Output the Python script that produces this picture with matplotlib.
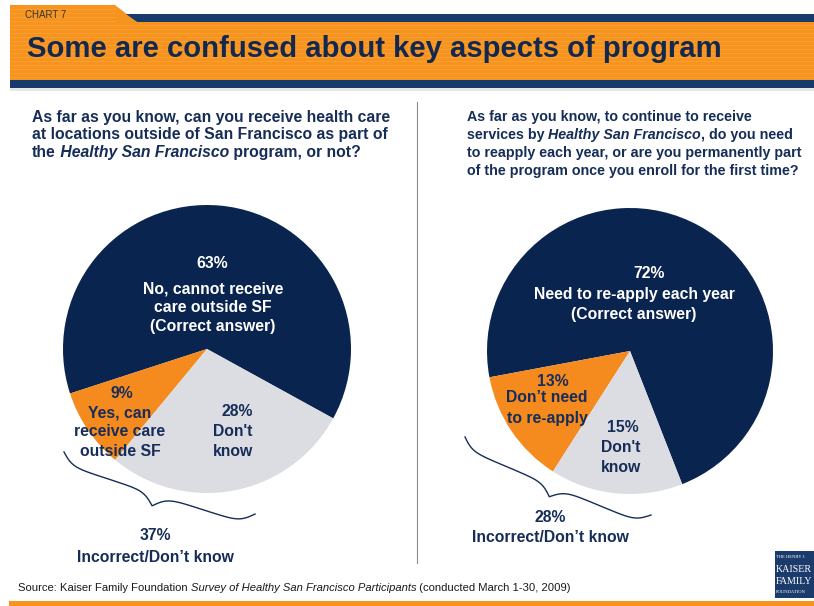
import numpy as np
import matplotlib
matplotlib.use("Agg")
import matplotlib.pyplot as plt
from matplotlib.patches import Polygon, Rectangle

W, H = 814, 606

# ---- data ----
left_values = [63, 9, 28]
left_labels = [["No, cannot receive", "care outside SF", "(Correct answer)"],
               ["Yes, can", "receive care", "outside SF"],
               ["Don't", "know"]]
left_incorrect = 37

right_values = [72, 13, 15]
right_labels = [["Need to re-apply each year", "(Correct answer)"],
                ["Don\u2019t need", "to re-apply"],
                ["Don't", "know"]]
right_incorrect = 28

slice_colors = ["#0a2450", "#f58a1f", "#dcdce3"]
navy_txt = "#162d58"
orange_hdr = "#f7941e"
navy_hdr = "#163a69"

plt.rcParams['font.family'] = ['Liberation Sans', 'DejaVu Sans']

fig = plt.figure(figsize=(W / 100, H / 100), dpi=100)
ax = fig.add_axes([0, 0, 1, 1], zorder=2)
ax.set_xlim(0, W)
ax.set_ylim(H, 0)
ax.axis('off')
renderer = fig.canvas.get_renderer()


def draw_pie(cx, cy, r, values, start):
    pax = fig.add_axes([(cx - r) / W, (H - cy - r) / H, 2 * r / W, 2 * r / H], zorder=1)
    pax.pie(values, colors=slice_colors, startangle=start, counterclock=True,
            radius=1, wedgeprops=dict(linewidth=0))
    pax.set_xlim(-1, 1)
    pax.set_ylim(-1, 1)
    pax.axis('off')


def brace(p0, p1, depth):
    p0, p1 = np.array(p0, float), np.array(p1, float)
    d = p1 - p0
    L = np.hypot(*d)
    u = d / L
    n = np.array([-u[1], u[0]])
    t = np.linspace(0, 1, 201)
    half = t[:101]
    beta = 32
    yh = 1 / (1 + np.exp(-beta * (half - half[0]))) + 1 / (1 + np.exp(-beta * (half - half[-1])))
    y = np.concatenate([yh, yh[-2::-1]])
    off = (y - 0.5) * depth
    pts = p0 + np.outer(t * L, u) + np.outer(off, n)
    ax.plot(pts[:, 0], pts[:, 1], color=navy_txt, lw=1.0)


def rich(x, y, parts, size, weight, color):
    for s, style in parts:
        t = ax.text(x, y, s, fontsize=size, fontweight=weight, fontstyle=style,
                    color=color, va='baseline', ha='left')
        bb = t.get_window_extent(renderer)
        x = ax.transData.inverted().transform((bb.x1, bb.y0))[0]


def lines(x, ys, strings, color, size=11.3):
    for yy, s in zip(ys, strings):
        ax.text(x, yy, s, fontsize=size, fontweight='bold', color=color,
                ha='center', va='center')


# ---- header ----
ax.add_patch(Polygon([(10, 5), (115, 5), (137, 22), (W, 22), (W, 80), (10, 80)],
                     closed=True, color=orange_hdr, lw=0, zorder=1))
for yy in np.arange(9, 80, 4):
    ax.plot([10, 115 if yy < 22 else W], [yy, yy], color="#f9a94c", lw=0.6,
            alpha=0.6, zorder=1.5)
ax.add_patch(Polygon([(126, 14), (W, 14), (W, 22), (137, 22)], closed=True,
                     color=navy_hdr, lw=0, zorder=2))
ax.add_patch(Rectangle((10, 80), W - 10, 8, color=navy_hdr, lw=0, zorder=2))
ax.add_patch(Rectangle((10, 88), W - 10, 3, color="#e6e6e6", lw=0, zorder=2))
ax.text(25, 15, "CHART 7", fontsize=7, color="#333333", va='center', ha='left', zorder=3)
ax.text(27, 57, "Some are confused about key aspects of program", fontsize=21.1,
        fontweight='bold', color="#13284f", va='baseline', ha='left', zorder=3)

# ---- questions ----
qsize = 11.3
rich(32, 122, [("As far as you know, can you receive health care", 'normal')], qsize, 'bold', navy_txt)
rich(32, 139.5, [("at locations outside of San Francisco as part of", 'normal')], qsize, 'bold', navy_txt)
rich(32, 157, [("the", 'normal'), (" Healthy San Francisco", 'italic'),
               (" program, or not?", 'normal')], qsize, 'bold', navy_txt)

rsize = 10.25
rich(467, 121, [("As far as you know, to continue to receive", 'normal')], rsize, 'bold', navy_txt)
rich(467, 139, [("services by", 'normal'), (" Healthy San Francisco", 'italic'),
                (", do you need", 'normal')], rsize, 'bold', navy_txt)
rich(467, 157, [("to reapply each year, or are you permanently part", 'normal')], rsize, 'bold', navy_txt)
rich(467, 175, [("of the program once you enroll for the first time?", 'normal')], rsize, 'bold', navy_txt)

# divider
ax.plot([417, 417], [102, 563], color="#8a8a8a", lw=0.8)

# ---- pies ----
draw_pie(207, 349, 144, left_values, -28.8)
draw_pie(630, 351, 143, right_values, -68.6)

# left labels
lines(212, [264], [f"{left_values[0]}%"], "white")
lines(213, [289, 308, 327], left_labels[0], "white")
lines(122, [394], [f"{left_values[1]}%"], navy_txt)
lines(120, [413, 432, 452], left_labels[1], navy_txt)
lines(237, [411], [f"{left_values[2]}%"], navy_txt)
lines(233, [432, 451], left_labels[2], navy_txt)

# right labels
lines(649, [273], [f"{right_values[0]}%"], "white")
lines(634, [295, 314], right_labels[0], "white")
lines(553, [381], [f"{right_values[1]}%"], navy_txt)
lines(547, [398, 418], right_labels[1], navy_txt)
lines(623, [427], [f"{right_values[2]}%"], navy_txt)
lines(621, [448, 467], right_labels[2], navy_txt)

# braces + incorrect totals
brace((64, 452), (255, 514), 24)
brace((465, 437), (651, 515), 22.5)
lines(155, [536], [f"{left_incorrect}%"], navy_txt)
lines(155, [557], ["Incorrect/Don\u2019t know"], navy_txt)
lines(550, [518], [f"{right_incorrect}%"], navy_txt)
lines(550, [538], ["Incorrect/Don\u2019t know"], navy_txt)

# ---- footer ----
rich(18, 591, [("Source: Kaiser Family Foundation ", 'normal'),
               ("Survey of Healthy San Francisco Participants", 'italic'),
               (" (conducted March 1-30, 2009)", 'normal')], 8.1, 'normal', "#1a1a1a")
ax.add_patch(Rectangle((9, 601), W - 9, 5, color=orange_hdr, lw=0))

# logo
ax.add_patch(Rectangle((775, 551), W - 775, 47, color="#1b3b6c", lw=0))
logo_font = ['Liberation Serif', 'DejaVu Serif']
ax.text(776, 557, "THE HENRY J.", fontsize=3.3, color="white", family=logo_font, va='center')
ax.text(776, 569, "KAISER", fontsize=7.2, color="white", family=logo_font, va='center')
ax.text(776, 581, "FAMILY", fontsize=7.2, color="white", family=logo_font, va='center')
ax.text(776, 592, "FOUNDATION", fontsize=3.3, color="white", family=logo_font, va='center')

fig.savefig("out.png", dpi=100)
